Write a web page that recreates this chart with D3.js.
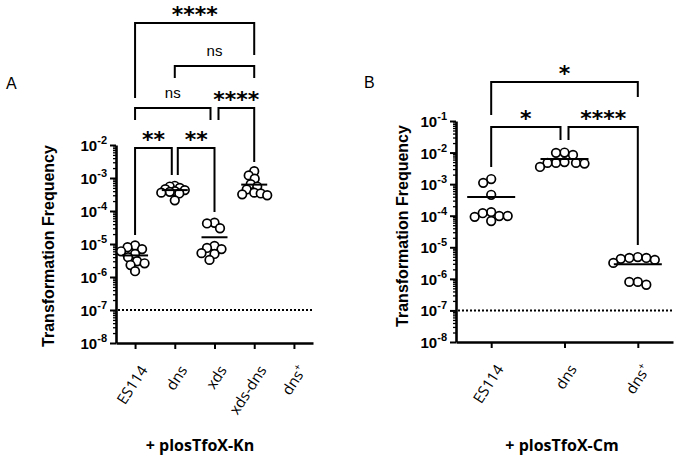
<!DOCTYPE html>
<html>
<head>
<meta charset="utf-8">
<script src="https://cdn.jsdelivr.net/npm/d3@7"></script>
<style>
  body { margin: 0; background: #fff; }
  svg { display: block; }
  .tick-lab { font: bold 15px "Liberation Sans", Arial, sans-serif; }
  .ytitle { font: bold 16px "Liberation Sans", Arial, sans-serif; }
  .xlab { font: 15px "Open Sans", sans-serif; }
  .xtitle { font: bold 16px "Open Sans", sans-serif; }
  .star { font: bold 22px "DejaVu Sans", sans-serif; }
  .ns { font: 15px "Liberation Sans", Arial, sans-serif; }
  .panel { font: 16px "Liberation Sans", Arial, sans-serif; }
</style>
</head>
<body>
<div id="chart"></div>
<script>
// Panel A: + plosTfoX-Kn
const catsA = ['ES114', 'dns', 'xds', 'xds-dns', 'dns+'];
const es114A = [9.0e-6, 8.0e-6, 7.0e-6, 6.0e-6, 5.0e-6, 4.0e-6, 3.0e-6, 2.6e-6, 2.3e-6, 1.5e-6];
const dnsA = [5.8e-4, 5.5e-4, 5.0e-4, 4.6e-4, 4.3e-4, 4.0e-4, 3.8e-4, 3.6e-4, 3.4e-4, 2.1e-4];
const xdsA = [4.4e-5, 4.2e-5, 3.0e-5, 8.7e-6, 7.6e-6, 7.0e-6, 5.3e-6, 5.0e-6, 3.3e-6];
const xdsDnsA = [1.6e-3, 1.2e-3, 9.5e-4, 6.5e-4, 5.5e-4, 4.5e-4, 3.6e-4, 3.4e-4, 3.2e-4, 3.0e-4];
const dnsPlusA = [];
const meansA = [4.5e-6, 4.3e-4, 1.6e-5, 6.3e-4, null];

// Panel B: + plosTfoX-Cm
const catsB = ['ES114', 'dns', 'dns+'];
const es114B = [1.45e-3, 1.1e-3, 4.6e-4, 1.3e-4, 1.2e-4, 9.8e-5, 9.8e-5, 9.2e-5, 6.8e-5];
const dnsB = [1.0e-2, 9.8e-3, 8.4e-3, 5.0e-3, 4.7e-3, 4.7e-3, 4.5e-3, 4.7e-3, 3.5e-3];
const dnsPlusB = [4.9e-6, 4.6e-6, 4.6e-6, 4.3e-6, 4.0e-6, 3.2e-6, 8.0e-7, 8.0e-7, 6.5e-7];
const meansB = [3.9e-4, 6.3e-3, 2.9e-6];

const detectionLimit = 1e-7;

// comparisons: [from, to, label]
const compsA = [
  ['ES114', 'dns', '**'],
  ['dns', 'xds', '**'],
  ['ES114', 'xds', 'ns'],
  ['xds', 'xds-dns', '****'],
  ['dns', 'xds-dns', 'ns'],
  ['ES114', 'xds-dns', '****']
];
const compsB = [
  ['ES114', 'dns+', '*'],
  ['ES114', 'dns', '*'],
  ['dns', 'dns+', '****']
];

const W = 680, H = 458;
const svg = d3.select('#chart').append('svg').attr('width', W).attr('height', H);

// simple beeswarm: put each point as close to the centre as it can go
const swarm = (values, y, cx, minD) => {
  const placed = [];
  values.map((v) => ({ v, y: y(v) }))
    .sort((a, b) => a.y - b.y)
    .forEach((p) => {
      for (let k = 0; k < 400; k++) {
        const off = (k % 2 === 0 ? 1 : -1) * Math.ceil(k / 2) * 0.5;
        const x = cx + off;
        if (placed.every((q) => Math.hypot(q.x - x, q.y - p.y) >= minD)) {
          p.x = x;
          break;
        }
      }
      placed.push(p);
    });
  return placed;
};

const drawPanel = (cfg) => {
  const g = svg.append('g');
  const x = d3.scalePoint().domain(cfg.cats).range(cfg.xRange).padding(0.48);
  const y = d3.scaleLog().domain(cfg.yDomain).range(cfg.yRange);
  const x0 = cfg.xRange[0];

  // minor ticks
  const minor = [];
  const majors = [];
  const lo = Math.log10(cfg.yDomain[0]), hi = Math.log10(cfg.yDomain[1]);
  for (let e = lo; e <= hi; e++) {
    majors.push(Math.pow(10, e));
    if (e < hi) for (let m = 2; m <= 9; m++) minor.push(m * Math.pow(10, e));
  }
  g.append('g')
    .attr('transform', `translate(${x0},0)`)
    .call(d3.axisLeft(y).tickValues(minor).tickSize(3).tickFormat('').tickSizeOuter(0))
    .call((a) => a.select('.domain').remove())
    .call((a) => a.selectAll('line').attr('stroke-width', 1.3));

  const yAxis = g.append('g')
    .attr('transform', `translate(${x0},0)`)
    .call(d3.axisLeft(y).tickValues(majors).tickSize(6).tickFormat('').tickSizeOuter(0));
  yAxis.select('.domain').attr('stroke-width', 2.6);
  yAxis.selectAll('line').attr('stroke-width', 2);

  majors.forEach((v) => {
    const t = g.append('text').attr('class', 'tick-lab')
      .attr('x', x0 - 9).attr('y', y(v) + 6).attr('text-anchor', 'end');
    t.append('tspan').text('10');
    t.append('tspan').attr('dy', -7).attr('font-size', 11).text(Math.log10(v).toFixed(0));
  });

  // x axis
  const xAxis = g.append('g')
    .attr('transform', `translate(0,${cfg.yRange[0]})`)
    .call(d3.axisBottom(x).tickSize(6).tickSizeOuter(0).tickFormat(''));
  xAxis.select('.domain').attr('stroke-width', 2.6);
  xAxis.selectAll('line').attr('stroke-width', 2);

  cfg.cats.forEach((c) => {
    const t = g.append('text').attr('class', 'xlab')
      .attr('text-anchor', 'end')
      .attr('transform', `translate(${x(c) + 13},${cfg.yRange[0] + 27}) rotate(-57)`);
    if (c.endsWith('+')) {
      t.append('tspan').text(c.slice(0, -1));
      t.append('tspan').attr('dy', -6).attr('font-size', 10).text('+');
    } else {
      t.text(c);
    }
  });

  // detection limit
  g.append('line')
    .attr('x1', x0 + 2).attr('x2', cfg.xRange[1])
    .attr('y1', y(detectionLimit)).attr('y2', y(detectionLimit))
    .attr('stroke', '#000').attr('stroke-width', 2).attr('stroke-dasharray', '2,2');

  // points
  cfg.series.forEach((vals, i) => {
    const pts = swarm(vals, y, x(cfg.cats[i]), cfg.minD[i]);
    g.selectAll(null).data(pts).enter().append('circle')
      .attr('cx', (d) => d.x).attr('cy', (d) => d.y).attr('r', 4.3)
      .attr('fill', '#fff').attr('stroke', '#000').attr('stroke-width', 1.7);
    if (cfg.means[i] != null) {
      g.append('line')
        .attr('x1', x(cfg.cats[i]) - cfg.meanW / 2).attr('x2', x(cfg.cats[i]) + cfg.meanW / 2)
        .attr('y1', y(cfg.means[i])).attr('y2', y(cfg.means[i]))
        .attr('stroke', '#000').attr('stroke-width', 2);
    }
  });

  // significance brackets
  cfg.comps.forEach((c, i) => {
    const b = cfg.brackets[i];
    const xa = x(c[0]) + b[0], xb = x(c[1]) + b[1];
    g.append('path')
      .attr('d', `M${xa},${b[3]}V${b[2]}H${xb}V${b[4]}`)
      .attr('fill', 'none').attr('stroke', '#000').attr('stroke-width', 2);
    const isStar = c[2].includes('*');
    g.append('text').attr('class', isStar ? 'star' : 'ns')
      .attr('x', (xa + xb) / 2)
      .attr('y', isStar ? b[2] - 1 : b[2] - 10)
      .attr('text-anchor', 'middle')
      .text(c[2]);
  });

  // titles
  g.append('text').attr('class', 'ytitle')
    .attr('text-anchor', 'middle')
    .attr('transform', `translate(${cfg.yTitle[0]},${cfg.yTitle[1]}) rotate(-90)`)
    .attr('dy', '0.35em')
    .text('Transformation  Frequency');
  g.append('text').attr('class', 'xtitle')
    .attr('x', cfg.xTitle[0]).attr('y', cfg.xTitle[1])
    .attr('text-anchor', 'middle')
    .text(cfg.xTitleText);
  g.append('text').attr('class', 'panel')
    .attr('x', cfg.panelPos[0]).attr('y', cfg.panelPos[1])
    .text(cfg.panel);
};

drawPanel({
  cats: catsA,
  series: [es114A, dnsA, xdsA, xdsDnsA, dnsPlusA],
  means: meansA,
  comps: compsA,
  // [x inset left, x inset right, bar y, left leg end, right leg end]
  brackets: [
    [0, -3, 148, 235, 175],
    [3, 0, 148, 175, 212],
    [0, -4, 108, 120, 120],
    [4, 0, 108, 120, 162],
    [0, 0, 66, 78, 78],
    [0, 0, 23, 98, 55]
  ],
  xRange: [116, 313],
  yDomain: [1e-8, 1e-2],
  yRange: [343, 145],
  minD: [7.5, 5, 7.5, 6.5, 7],
  meanW: 26,
  yTitle: [48, 246],
  xTitle: [200, 451],
  xTitleText: '+ plosTfoX-Kn',
  panel: 'A',
  panelPos: [6, 89]
});

drawPanel({
  cats: catsB,
  series: [es114B, dnsB, dnsPlusB],
  means: meansB,
  comps: compsB,
  brackets: [
    [0, 0, 82, 115, 97],
    [0, -4, 127, 167, 140],
    [4, 0, 127, 140, 245]
  ],
  xRange: [456, 673],
  yDomain: [1e-8, 1e-1],
  yRange: [342, 121],
  minD: [8.5, 8.5, 8.5],
  meanW: 48,
  yTitle: [402, 226],
  xTitle: [562, 451],
  xTitleText: '+ plosTfoX-Cm',
  panel: 'B',
  panelPos: [364, 88]
});
</script>
</body>
</html>
